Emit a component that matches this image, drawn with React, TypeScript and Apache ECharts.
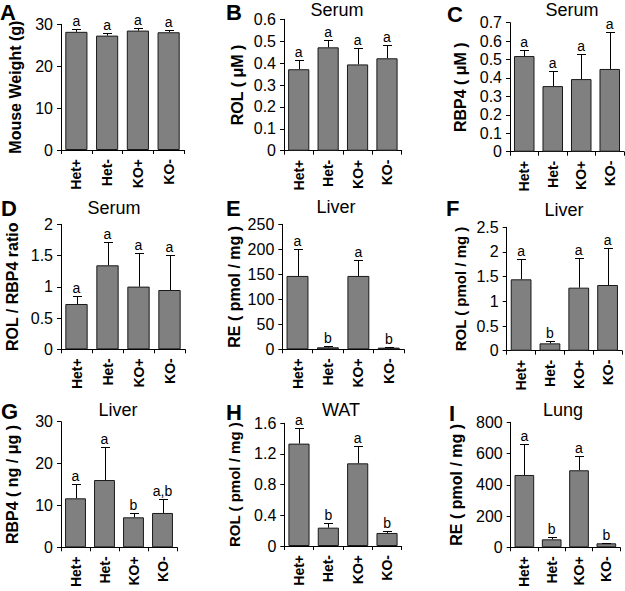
import React, { useEffect, useRef } from "react";
import * as echarts from "echarts";

const FONT = "'Liberation Sans', Arial, Helvetica, sans-serif";

const categories = ["Het+", "Het-", "KO+", "KO-"];

// A: Mouse weight
const weightMean = [28.2, 27.3, 28.5, 28.1];
const weightSd = [0.6, 0.6, 0.5, 0.6];
const weightSig = ["a", "a", "a", "a"];
// B: Serum ROL
const serumRolMean = [0.372, 0.472, 0.394, 0.422];
const serumRolSd = [0.042, 0.032, 0.077, 0.062];
const serumRolSig = ["a", "a", "a", "a"];
// C: Serum RBP4
const serumRbpMean = [0.519, 0.356, 0.394, 0.449];
const serumRbpSd = [0.033, 0.08, 0.136, 0.199];
const serumRbpSig = ["a", "a", "a", "a"];
// D: Serum ROL/RBP4 ratio
const ratioMean = [0.725, 1.344, 1.003, 0.949];
const ratioSd = [0.134, 0.373, 0.538, 0.555];
const ratioSig = ["a", "a", "a", "a"];
// E: Liver RE
const liverReMean = [146.7, 4, 146.7, 3.3];
const liverReSd = [54, 2, 31.3, 0.7];
const liverReSig = ["a", "b", "a", "b"];
// F: Liver ROL
const liverRolMean = [1.446, 0.149, 1.277, 1.331];
const liverRolSd = [0.405, 0.054, 0.595, 0.743];
const liverRolSig = ["a", "b", "a", "a"];
// G: Liver RBP4
const liverRbpMean = [11.7, 16.07, 7.16, 8.2];
const liverRbpSd = [3.34, 7.88, 1.12, 3.4];
const liverRbpSig = ["a", "a", "b", "a,b"];
// H: WAT ROL
const watRolMean = [1.335, 0.239, 1.078, 0.17];
const watRolSd = [0.204, 0.065, 0.226, 0.021];
const watRolSig = ["a", "b", "a", "b"];
// I: Lung RE
const lungReMean = [463, 51, 493, 25.6];
const lungReSd = [196, 13, 94, 4.4];
const lungReSig = ["a", "b", "a", "b"];

const panelLetters = ["A", "B", "C", "D", "E", "F", "G", "H", "I"];
const panelTitles = ["", "Serum", "Serum", "Serum", "Liver", "Liver", "Liver", "WAT", "Lung"];
const yNames = [
  "Mouse Weight (g)",
  "ROL ( \u03bcM )",
  "RBP4 ( \u03bcM )",
  "ROL / RBP4 ratio",
  "RE ( pmol / mg )",
  "ROL ( pmol / mg )",
  "RBP4 ( ng / \u03bcg )",
  "ROL ( pmol / mg )",
  "RE ( pmol / mg )",
];
const yMax = [30, 0.6, 0.7, 2, 250, 2.5, 30, 1.6, 800];
const yInterval = [10, 0.1, 0.1, 0.5, 50, 0.5, 10, 0.4, 200];

const means = [weightMean, serumRolMean, serumRbpMean, ratioMean, liverReMean, liverRolMean, liverRbpMean, watRolMean, lungReMean];
const sds = [weightSd, serumRolSd, serumRbpSd, ratioSd, liverReSd, liverRolSd, liverRbpSd, watRolSd, lungReSd];
const sigs = [weightSig, serumRolSig, serumRbpSig, ratioSig, liverReSig, liverRolSig, liverRbpSig, watRolSig, lungReSig];

// layout: [left, top, width, height, nameGap, nameFontSize]
const layout = [
  [61, 24.3, 123, 125.7, 38, 16],
  [284, 19.3, 117.7, 131.4, 39, 16],
  [510, 22.7, 114, 129, 42, 16],
  [61, 224.3, 124, 125, 41, 16],
  [282.3, 224.3, 121.7, 125, 40, 16],
  [506.7, 227.3, 115.3, 123.4, 39, 15],
  [61, 421.7, 116, 125.6, 41, 16],
  [284.3, 423.3, 117.4, 122.7, 42, 15],
  [510.7, 422.3, 109.3, 125, 46, 16],
];
// letter positions [x, y], title centers [x, y]
const letterPos = [
  [0, 1], [226, 1], [447, 3], [1, 197], [226, 197], [446, 197], [1, 400], [226, 401], [449, 402],
];
const titlePos = [
  [0, 0], [337, 1], [572, 1], [114, 199], [336, 198], [564, 201], [118, 401], [341, 401], [563, 401],
];

function makeErrorRender(sig: string[]) {
  return (params: any, api: any) => {
    const idx = api.value(0);
    const m = api.value(1);
    const u = api.value(2);
    const p0 = api.coord([idx, m]);
    const p1 = api.coord([idx, u]);
    const x = Math.round(p0[0]) + 0.5;
    const yTop = Math.round(p1[1]) + 0.5;
    return {
      type: "group",
      children: [
        { type: "line", shape: { x1: x, y1: p0[1], x2: x, y2: yTop }, style: { stroke: "#000", lineWidth: 1 } },
        { type: "line", shape: { x1: x - 4.5, y1: yTop, x2: x + 4.5, y2: yTop }, style: { stroke: "#000", lineWidth: 1 } },
        {
          type: "text",
          x: p0[0],
          y: yTop - 2,
          style: {
            text: sig[params.dataIndex],
            align: "center",
            verticalAlign: "bottom",
            fontSize: 14,
            fontFamily: FONT,
            fill: "#000",
          },
        },
      ],
    };
  };
}

export default function App() {
  const ref = useRef<HTMLDivElement>(null);
  useEffect(() => {
    if (!ref.current) return;
    const chart = echarts.init(ref.current, null, { renderer: "svg" });
    const grid: any[] = [];
    const xAxis: any[] = [];
    const yAxis: any[] = [];
    const series: any[] = [];
    const graphic: any[] = [];
    for (let k = 0; k < 9; k++) {
      const [l, t, w, h, gap, nfs] = layout[k];
      grid.push({ left: l, top: t, width: w, height: h, containLabel: false });
      xAxis.push({
        type: "category",
        gridIndex: k,
        data: categories,
        axisLine: { show: true, lineStyle: { color: "#000", width: 1 } },
        axisTick: { show: true, alignWithLabel: false, length: 4, lineStyle: { color: "#000" } },
        axisLabel: { rotate: 90, fontWeight: "bold", fontSize: 14, fontFamily: FONT, color: "#000", margin: 9 },
        splitLine: { show: false },
      });
      yAxis.push({
        type: "value",
        gridIndex: k,
        min: 0,
        max: yMax[k],
        interval: yInterval[k],
        name: yNames[k],
        nameLocation: "middle",
        nameRotate: 90,
        nameGap: gap,
        nameTextStyle: { fontWeight: "bold", fontSize: nfs, fontFamily: FONT, color: "#000" },
        axisLine: { show: true, lineStyle: { color: "#000", width: 1 } },
        axisTick: { show: true, length: 4, lineStyle: { color: "#000" } },
        axisLabel: { fontSize: 16, fontFamily: FONT, color: "#000", margin: 8 },
        splitLine: { show: false },
      });
      series.push({
        type: "bar",
        xAxisIndex: k,
        yAxisIndex: k,
        data: means[k],
        barWidth: "72%",
        itemStyle: { color: "#808080", borderColor: "#1a1a1a", borderWidth: 1 },
        z: 2,
      });
      series.push({
        type: "custom",
        xAxisIndex: k,
        yAxisIndex: k,
        renderItem: makeErrorRender(sigs[k]),
        encode: { x: 0, y: [1, 2] },
        data: means[k].map((m, i) => [i, m, m + sds[k][i]]),
        z: 3,
      });
      graphic.push({
        type: "text",
        x: letterPos[k][0],
        y: letterPos[k][1],
        style: { text: panelLetters[k], fontSize: 22, fontWeight: "bold", fontFamily: FONT, fill: "#000", align: "left", verticalAlign: "top" },
      });
      if (panelTitles[k]) {
        graphic.push({
          type: "text",
          x: titlePos[k][0],
          y: titlePos[k][1],
          style: { text: panelTitles[k], fontSize: 18, fontFamily: FONT, fill: "#000", align: "center", verticalAlign: "top" },
        });
      }
    }
    chart.setOption({
      animation: false,
      backgroundColor: "#fff",
      grid,
      xAxis,
      yAxis,
      series,
      graphic,
    });
    return () => chart.dispose();
  }, []);
  return <div ref={ref} style={{ position: "absolute", left: 0, top: 0, width: 625, height: 591 }} />;
}
